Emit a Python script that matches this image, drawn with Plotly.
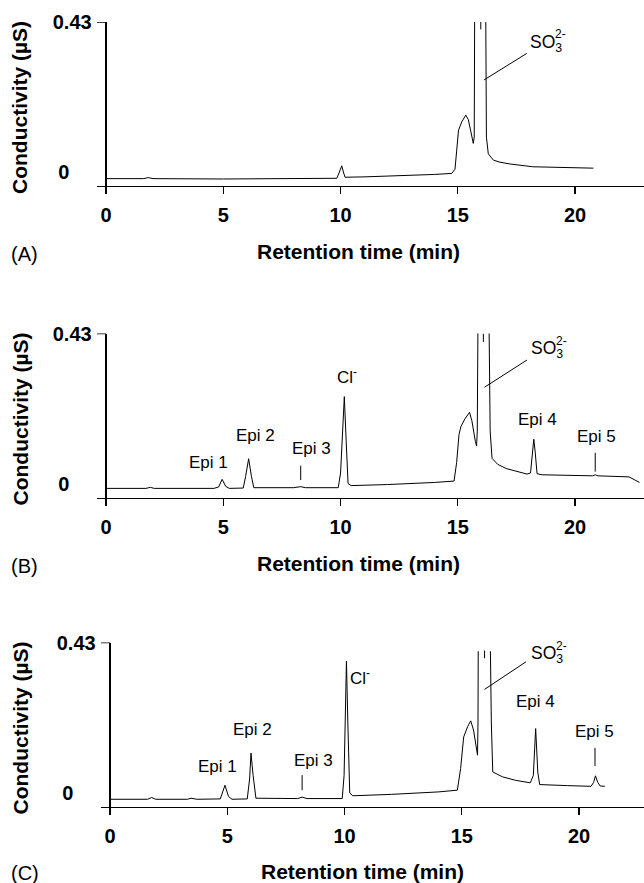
import plotly.graph_objects as go

FONT = "Liberation Sans, Arial, sans-serif"

# ---------------- data (retention time in min, conductivity in uS) ----------------
# None marks the gaps around the off-scale SO3(2-) peak (truncated peak top)
time_a = [0.0, 1.6, 1.8, 2.0, 5.0, 9.0, 9.84, 9.95, 10.05, 10.12, 10.19, 11.0, 12.0, 13.0, 14.0,
          14.74, 14.88, 14.95, 15.03, 15.17, 15.34, 15.45, 15.52, 15.66, 15.70, 15.72, None,
          15.98, 15.98, None,
          16.19, 16.22, 16.30, 16.52, 16.8, 17.23, 18.2, 19.5, 20.78]
cond_a = [-0.019, -0.019, -0.016, -0.019, -0.020, -0.020, -0.018, 0.0, 0.018, 0.0, -0.015, -0.014,
          -0.012, -0.010, -0.007, -0.004, 0.008, 0.06, 0.12, 0.144, 0.163, 0.15, 0.13, 0.082, 0.10,
          0.47, None,
          0.43, 0.409, None,
          0.47, 0.10, 0.052, 0.034, 0.028, 0.023, 0.015, 0.012, 0.011]

time_b = [0.0, 1.7, 1.89, 2.05, 4.6, 4.8, 4.95, 5.1, 5.25, 5.85, 5.95, 6.08, 6.2, 6.3, 8.0, 8.3, 8.5,
          9.9, 10.0, 10.08, 10.16, 10.24, 10.32, 10.45, 12.0, 14.0, 14.84, 14.95, 15.05, 15.13, 15.3,
          15.5, 15.6, 15.75, 15.8, 15.83, 15.86, None,
          16.09, 16.09, None,
          16.33, 16.38, 16.46, 16.7, 17.06, 17.5, 17.95, 18.1, 18.18, 18.24, 18.3, 18.38, 18.6,
          19.5, 20.75, 20.86, 20.97, 22.3, 22.75]
cond_b = [-0.014, -0.014, -0.011, -0.014, -0.014, -0.010, 0.012, -0.008, -0.014, -0.013, 0.02, 0.071,
          0.02, -0.012, -0.012, -0.009, -0.012, -0.012, 0.03, 0.15, 0.249, 0.12, 0.0, -0.006, -0.003,
          0.003, 0.007, 0.06, 0.14, 0.163, 0.185, 0.204, 0.18, 0.12, 0.108, 0.15, 0.47, None,
          0.43, 0.406, None,
          0.47, 0.15, 0.072, 0.055, 0.043, 0.034, 0.027, 0.03, 0.09, 0.127, 0.09, 0.028, 0.025,
          0.023, 0.022, 0.025, 0.022, 0.019, 0.003]

time_c = [0.0, 1.6, 1.77, 1.95, 3.3, 3.45, 3.7, 4.7, 4.9, 5.05, 5.2, 5.85, 5.95, 6.01, 6.1, 6.22, 8.0,
          8.19, 8.4, 9.9, 9.98, 10.04, 10.08, 10.14, 10.22, 10.35, 12.0, 14.0, 14.81, 14.95, 15.08,
          15.25, 15.38, 15.5, 15.62, 15.67, 15.69, 15.70, None,
          15.97, 15.97, None,
          16.22, 16.26, 16.32, 16.74, 17.3, 17.92, 18.05, 18.15, 18.24, 18.32, 19.5, 20.51, 20.62,
          20.7, 20.8, 20.9, 21.1]
cond_c = [-0.018, -0.018, -0.013, -0.018, -0.018, -0.015, -0.018, -0.017, 0.022, -0.01, -0.018,
          -0.017, 0.04, 0.114, 0.05, -0.015, -0.016, -0.012, -0.016, -0.016, 0.05, 0.25, 0.377, 0.2,
          0.0, -0.008, -0.004, 0.003, 0.008, 0.07, 0.16, 0.19, 0.206, 0.18, 0.125, 0.108, 0.2, 0.405,
          None,
          0.407, 0.385, None,
          0.405, 0.2, 0.06, 0.046, 0.036, 0.029, 0.05, 0.184, 0.06, 0.024, 0.021, 0.019, 0.03,
          0.049, 0.03, 0.02, 0.019]

# tick labels
x_ticks = [0, 5, 10, 15, 20]
y_ticks = [0, 0.43]
y_ticktext = ["0\u00a0\u00a0\u00a0\u00a0", "0.43"]

# peak labels (text, time, conductivity)
lab_b_text = ["Epi 1", "Epi 2", "Epi 3", "Cl<sup>-</sup>", "Epi 4", "Epi 5"]
lab_b_x = [4.36, 6.36, 8.77, 10.28, 18.39, 20.9]
lab_b_y = [0.060, 0.139, 0.099, 0.308, 0.184, 0.136]
lab_c_text = ["Epi 1", "Epi 2", "Epi 3", "Cl<sup>-</sup>", "Epi 4", "Epi 5"]
lab_c_x = [4.6, 6.09, 8.67, 10.67, 18.15, 20.64]
lab_c_y = [0.077, 0.182, 0.094, 0.33, 0.26, 0.175]

# SO3 label anchor (left edge of text) per panel
so3_x = [18.01, 18.05, 17.88]
so3_y = [0.369, 0.383, 0.395]

# pointer lines per panel: (x0, y0, x1, y1)
ptr_a = [(16.12, 0.264, 17.94, 0.340)]
ptr_b = [(8.3, 0.010, 8.3, 0.051), (16.14, 0.276, 17.95, 0.354), (20.86, 0.034, 20.86, 0.088)]
ptr_c = [(8.19, 0.008, 8.19, 0.051), (15.97, 0.296, 17.74, 0.375), (20.68, 0.077, 20.68, 0.129)]

panel_letters = ["(A)", "(B)", "(C)"]

# ---------------- layout geometry ----------------
W, H = 644, 883
y_lo, y_hi = -0.0401, 0.43
x_lo = -0.4
x_hi = [22.94, 22.94, 22.77]
x_dom0 = [96.7 / W, 96.7 / W, 100.7 / W]
top_px = [22.0, 333.5, 642.5]
bot_px = [186.0, 497.5, 807.0]
rt_x_px = [358.7, 358.7, 362.7]
rt_y_px = [251.5, 563.0, 871.0]
let_y_px = [254.0, 565.5, 872.5]
yt_y_px = [108.0, 419.5, 728.5]

fig = go.Figure()
series = [(time_a, cond_a), (time_b, cond_b), (time_c, cond_c)]
annotations = []
shapes = []

for i, (tx, cy) in enumerate(series):
    sfx = "" if i == 0 else str(i + 1)
    fig.add_trace(go.Scatter(x=tx, y=cy, mode="lines", line=dict(color="black", width=1),
                             xaxis="x" + sfx, yaxis="y" + sfx, showlegend=False,
                             connectgaps=False, hoverinfo="skip"))
    fig.layout["xaxis" + sfx] = dict(
        domain=[x_dom0[i], 1], range=[x_lo, x_hi[i]], anchor="y" + sfx,
        showline=True, linecolor="black", linewidth=1.3,
        ticks="outside", ticklen=7, tickwidth=1.3, tickcolor="black",
        tickvals=x_ticks, tickfont=dict(family=FONT, size=20, color="black", weight="bold"),
        showgrid=False, zeroline=True, zerolinecolor="black", zerolinewidth=1.3,
        ticklabelstandoff=4, fixedrange=True, automargin=False)
    fig.layout["yaxis" + sfx] = dict(
        domain=[1 - bot_px[i] / H, 1 - top_px[i] / H], range=[y_lo, y_hi], anchor="x" + sfx,
        showline=False, ticks="", tickvals=y_ticks, ticktext=y_ticktext,
        tickfont=dict(family=FONT, size=20, color="black", weight="bold"),
        showgrid=False, zeroline=False, ticklabelstandoff=4, fixedrange=True, automargin=False)
    xr, yr = "x" + sfx, "y" + sfx
    # the 0.43 tick mark (from left end of x axis to the y axis line at t=0)
    shapes.append(dict(type="line", xref=xr, yref=yr, x0=x_lo, x1=0, y0=y_ticks[1], y1=y_ticks[1],
                       line=dict(color="black", width=1.3)))
    # axis titles and panel letter
    annotations.append(dict(text="<b>Retention time (min)</b>", xref="paper", yref="paper",
                            x=rt_x_px[i] / W, y=1 - rt_y_px[i] / H, showarrow=False,
                            xanchor="center", yanchor="middle",
                            font=dict(family=FONT, size=21, color="black")))
    annotations.append(dict(text=panel_letters[i], xref="paper", yref="paper",
                            x=9 / W, y=1 - let_y_px[i] / H, showarrow=False,
                            xanchor="left", yanchor="middle",
                            font=dict(family=FONT, size=20, color="black")))
    annotations.append(dict(text="<b>Conductivity (µS)</b>", xref="paper", yref="paper",
                            x=20 / W, y=1 - yt_y_px[i] / H, showarrow=False, textangle=-90,
                            xanchor="center", yanchor="middle",
                            font=dict(family=FONT, size=21, color="black")))
    # SO3 2- label
    annotations.append(dict(text="SO<sub>3</sub>", xref=xr, yref=yr, x=so3_x[i], y=so3_y[i],
                            showarrow=False, xanchor="left", yanchor="middle",
                            font=dict(family=FONT, size=17.5, color="black")))
    annotations.append(dict(text="2-", xref=xr, yref=yr, x=so3_x[i], y=so3_y[i], xshift=25,
                            yshift=9, showarrow=False, xanchor="left", yanchor="middle",
                            font=dict(family=FONT, size=12, color="black")))

for texts, xs, ys, xr, yr in [(lab_b_text, lab_b_x, lab_b_y, "x2", "y2"),
                              (lab_c_text, lab_c_x, lab_c_y, "x3", "y3")]:
    for t, x, y in zip(texts, xs, ys):
        annotations.append(dict(text=t, xref=xr, yref=yr, x=x, y=y, showarrow=False,
                                xanchor="center", yanchor="middle",
                                font=dict(family=FONT, size=17, color="black")))

for segs, xr, yr in [(ptr_a, "x", "y"), (ptr_b, "x2", "y2"), (ptr_c, "x3", "y3")]:
    for (x0, y0, x1, y1) in segs:
        shapes.append(dict(type="line", xref=xr, yref=yr, x0=x0, y0=y0, x1=x1, y1=y1,
                           line=dict(color="black", width=1)))

fig.update_layout(width=W, height=H, margin=dict(l=0, r=0, t=0, b=0, autoexpand=False),
                  paper_bgcolor="white", plot_bgcolor="white",
                  annotations=annotations, shapes=shapes, showlegend=False,
                  font=dict(family=FONT, color="black"))

# remove the browser's default 8px body margin so the figure sits at the page origin
fig.write_html("out.html", config={"displayModeBar": False, "staticPlot": True},
               post_script="document.body.style.margin='0px';document.body.style.overflow='hidden';")
